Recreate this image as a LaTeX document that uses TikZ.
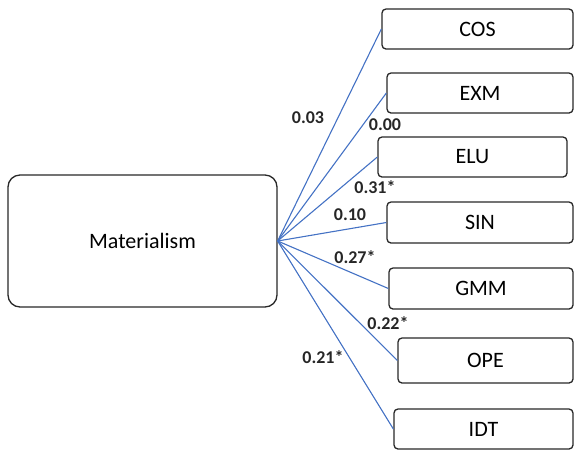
\documentclass[tikz,border=0pt]{standalone}
\usepackage{fontspec}
\setmainfont{Carlito}
\definecolor{linkblue}{RGB}{68,114,196}
\definecolor{boxline}{RGB}{40,40,40}
\begin{document}
\begin{tikzpicture}[x=1pt,y=-1pt,
  box/.style={draw=boxline,line width=1.3pt,rounded corners=4pt,fill=white,inner sep=0pt,
    font=\fontsize{22}{26}\selectfont},
  bigbox/.style={box,rounded corners=12pt},
  link/.style={draw=linkblue,line width=1.1pt},
  wt/.style={font=\bfseries\fontsize{18}{21}\selectfont,text=black!85,inner sep=0pt}]
\useasboundingbox (0,0) rectangle (574,451);
\node[bigbox,minimum width=269pt,minimum height=132pt] (m) at (142.5,241) {Materialism};
\node[box,minimum width=191pt,minimum height=40pt] (cos) at (477.5,29) {COS};
\node[box,minimum width=186pt,minimum height=40pt] (exm) at (480,93) {EXM};
\node[box,minimum width=189pt,minimum height=40pt] (elu) at (472.5,157) {ELU};
\node[box,minimum width=186pt,minimum height=41pt] (sin) at (480,222.5) {SIN};
\node[box,minimum width=184pt,minimum height=41pt] (gmm) at (481,288.5) {GMM};
\node[box,minimum width=175pt,minimum height=45pt] (ope) at (485.5,360.5) {OPE};
\node[box,minimum width=179pt,minimum height=40pt] (idt) at (483.5,429) {IDT};
\foreach \t in {cos,exm,elu,sin,gmm,ope,idt}
  \draw[link] (m.east) -- (\t.west);
\node[wt] (w1) at (308,118) {0.03};
\node[wt] (w2) at (385,125) {0.00};
\node[wt] (w3) at (375,187) {0.31*};
\node[wt] (w4) at (350,215) {0.10};
\node[wt] (w5) at (355,257) {0.27*};
\node[wt] (w6) at (388,323) {0.22*};
\node[wt] (w7) at (323,357) {0.21*};
\end{tikzpicture}
\end{document}
